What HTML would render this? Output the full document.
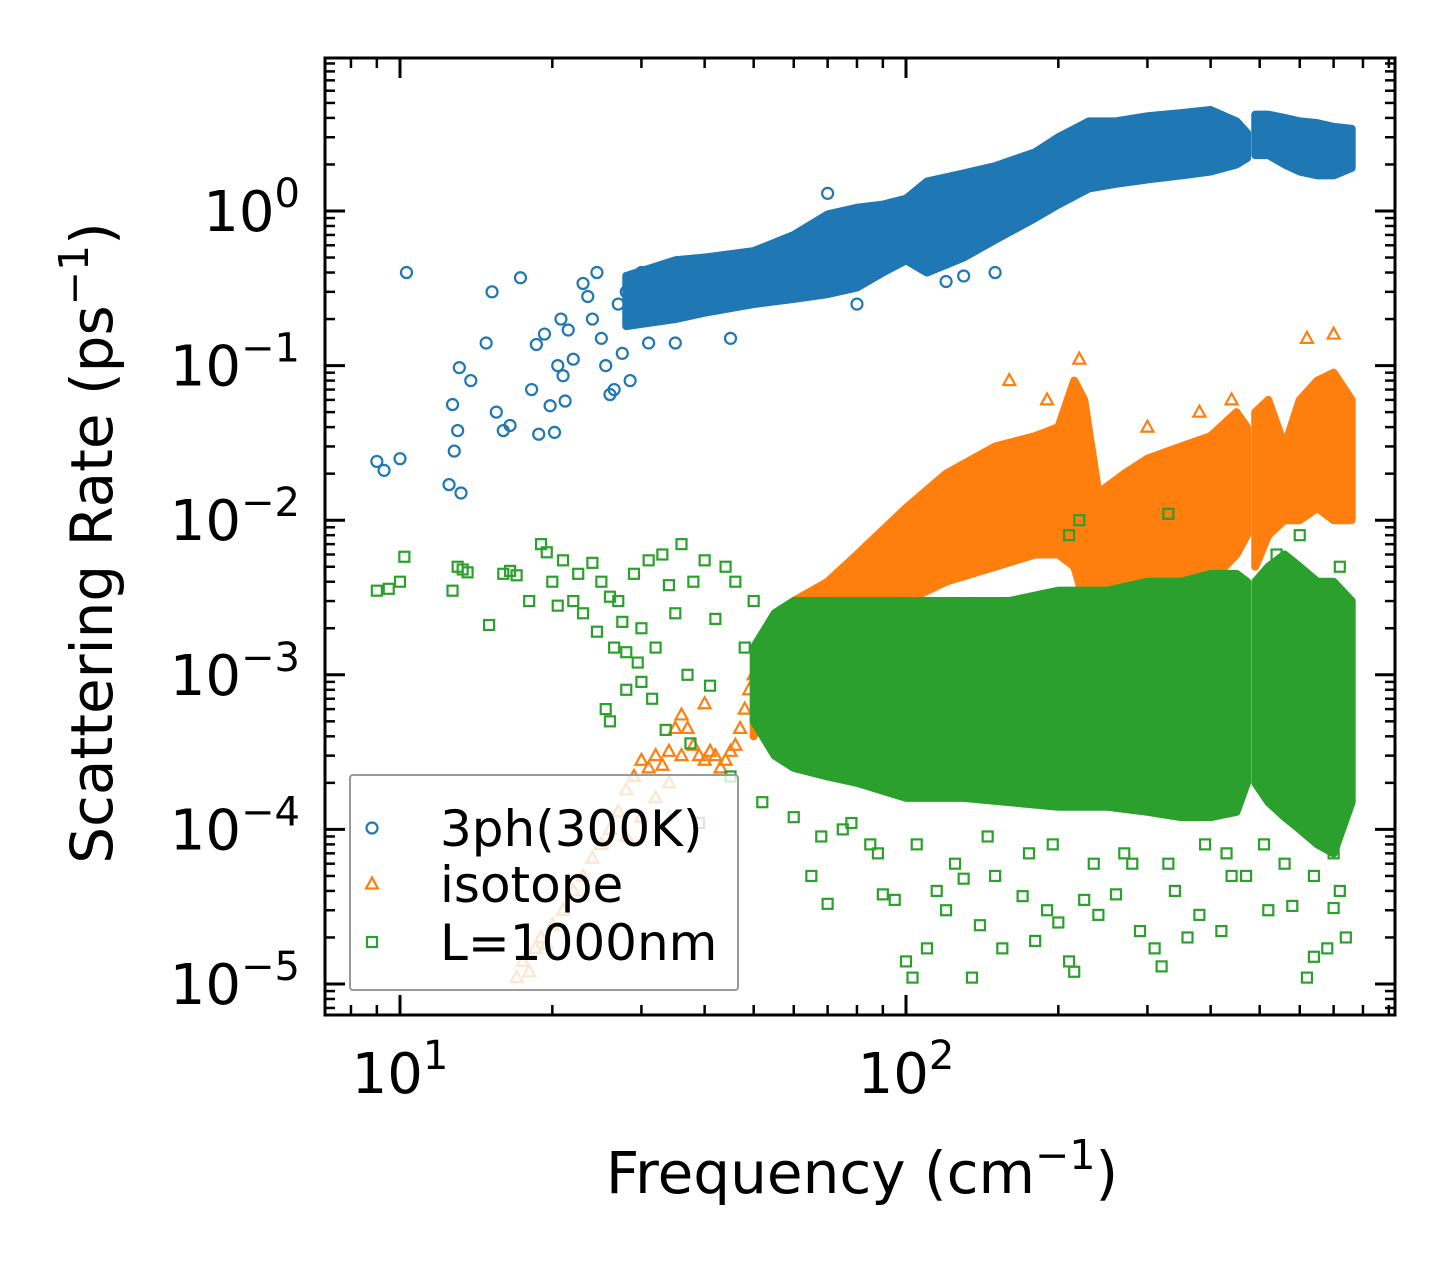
<!DOCTYPE html>
<html><head><meta charset="utf-8"><style>
html,body{margin:0;padding:0;background:#fff;}
svg text{font-family:"DejaVu Sans","Liberation Sans",sans-serif;}
</style></head><body>
<svg id="chart" width="1455" height="1265" viewBox="0 0 1455 1265" xmlns="http://www.w3.org/2000/svg">
<rect width="1455" height="1265" fill="#fff"/>
<g id="plot"></g>
<g id="axes"></g>
<g id="legend"></g>
</svg>
<script>
// ---- data ----
const blueF = [9,9.3,10,10.3,12.5,12.7,12.8,13,13.1,13.2,13.8,14.8,15.2,15.5,16,16.5,17.3,18.2,18.6,18.8,19.3,19.8,20.2,20.5,20.8,21,21.2,21.5,22,23,23.5,24,24.5,25,25.5,26,26.5,27,27.5,28,28.5,29,30,31,32,33,34,35,36,37,38,39,42,45,48,70,80,90,120,130,150];
const blueV = [0.024,0.021,0.025,0.4,0.017,0.056,0.028,0.038,0.097,0.015,0.08,0.14,0.3,0.05,0.038,0.041,0.37,0.07,0.137,0.036,0.16,0.055,0.037,0.1,0.2,0.086,0.059,0.17,0.11,0.34,0.28,0.2,0.4,0.15,0.1,0.065,0.07,0.25,0.12,0.3,0.08,0.2,0.4,0.14,0.25,0.35,0.3,0.14,0.3,0.25,0.45,0.33,0.35,0.15,0.3,1.3,0.25,0.5,0.35,0.38,0.4];
const blueBand1F = [28,35,40,50,60,70,80,90,100,110,130,150,180,200,230,260,300,350,400,450,472];
const blueBand1Lo = [0.18,0.2,0.22,0.25,0.27,0.29,0.32,0.4,0.48,0.4,0.5,0.65,0.9,1.1,1.4,1.5,1.6,1.7,1.8,2.0,2.2];
const blueBand1Hi = [0.38,0.48,0.5,0.55,0.7,0.95,1.05,1.1,1.2,1.55,1.75,1.95,2.4,3.0,3.8,3.8,4.1,4.3,4.5,3.8,3.2];
const blueBand2F = [490,520,560,600,650,700,760];
const blueBand2Lo = [2.3,2.3,2.0,1.8,1.7,1.7,1.9];
const blueBand2Hi = [4.2,4.2,4.0,3.8,3.7,3.5,3.4];

const orangeF = [17,17.5,18,18.5,19,19.5,20,21,22,23,24,25,26,27,28,29,30,31,32,33,34,35,36,37,38,39,40,41,42,43,44,45,46,47,48,49,50,52,55,40,30,28,32,34,36,160,190,220,230,300,320,380,440,620,700,600,650];
const orangeV = [1.1e-5,1.4e-5,1.2e-5,1.7e-5,2e-5,1.8e-5,2.4e-5,3e-5,4e-5,5e-5,6.5e-5,8e-5,1e-4,1.3e-4,1.8e-4,2.2e-4,2.8e-4,2.5e-4,3e-4,2.6e-4,3.2e-4,4.5e-4,5.5e-4,4.5e-4,3.5e-4,3e-4,2.8e-4,3.2e-4,3e-4,2.5e-4,2.8e-4,3.2e-4,3.5e-4,4.5e-4,6e-4,8e-4,1e-3,1.5e-3,2e-3,6.5e-4,1.2e-4,9e-5,1.6e-4,2e-4,3e-4,8e-2,6e-2,1.1e-1,3e-2,4e-2,2e-2,5e-2,6e-2,1.5e-1,1.6e-1,1.5e-4,2e-4];
const orangeBand1F = [50,55,60,70,80,100,120,150,180,200,215,225,240,270,300,350,400,450,472];
const orangeBand1Lo = [4e-4,1e-3,1.8e-3,2e-3,2.2e-3,3e-3,4e-3,5e-3,6e-3,6e-3,5e-3,3e-3,2e-3,2e-3,2.5e-3,3e-3,4e-3,6e-3,8e-3];
const orangeBand1Hi = [6e-4,2e-3,3e-3,4e-3,6e-3,1.2e-2,2e-2,3e-2,3.5e-2,4e-2,8e-2,6e-2,1.5e-2,2e-2,2.5e-2,3e-2,3.5e-2,5e-2,4e-2];
const orangeBand2F = [490,520,560,600,650,700,760];
const orangeBand2Lo = [5e-3,8e-3,1e-2,1e-2,1.2e-2,1e-2,1e-2];
const orangeBand2Hi = [5e-2,6e-2,3e-2,6e-2,8e-2,9e-2,6e-2];

const greenF = [9,9.5,10,10.2,12.7,13,13.3,13.6,15,16,16.5,17,18,19,19.5,20,20.5,21,22,22.5,23,24,24.5,25,26,26.5,27,27.5,28,29,29.5,30,31,31.5,32,33,33.5,34,35,36,37,37.5,38,39,40,41,42,44,45,46,48,50,52,26,28,30,25.5,65,70,75,85,90,95,100,103,110,115,120,130,135,140,150,155,170,180,190,200,210,215,225,240,260,280,290,310,320,340,360,380,420,440,520,580,620,640,680,700,720,740,210,220,330,540,600,720,60,68,78,88,105,125,145,175,195,235,270,330,390,430,470,510,560,640,700];
const greenV = [3.5e-3,3.6e-3,4e-3,5.8e-3,3.5e-3,5e-3,4.8e-3,4.6e-3,2.1e-3,4.5e-3,4.7e-3,4.4e-3,3e-3,7e-3,6.2e-3,4e-3,2.8e-3,5.5e-3,3e-3,4.5e-3,2.5e-3,5.3e-3,1.9e-3,4e-3,3.2e-3,1.5e-3,3e-3,2.2e-3,1.4e-3,4.5e-3,1.2e-3,2e-3,5.5e-3,7e-4,1.5e-3,6e-3,4.4e-4,3.8e-3,2.5e-3,7e-3,1e-3,3.6e-4,4e-3,1.1e-4,5.5e-3,8.5e-4,2.3e-3,5e-3,2.2e-4,4e-3,1.5e-3,3e-3,1.5e-4,5e-4,8e-4,9e-4,6e-4,5e-5,3.3e-5,1e-4,8e-5,3.8e-5,3.5e-5,1.4e-5,1.1e-5,1.7e-5,4e-5,3e-5,4.8e-5,1.1e-5,2.4e-5,5e-5,1.7e-5,3.7e-5,1.9e-5,3e-5,2.5e-5,1.4e-5,1.2e-5,3.5e-5,2.8e-5,3.8e-5,6e-5,2.2e-5,1.7e-5,1.3e-5,4e-5,2e-5,2.8e-5,2.2e-5,5e-5,3e-5,3.2e-5,1.1e-5,1.5e-5,1.7e-5,3.1e-5,4e-5,2e-5,8e-3,1e-2,1.1e-2,6e-3,8e-3,5e-3,1.2e-4,9e-5,1.1e-4,7e-5,8e-5,6e-5,9e-5,7e-5,8e-5,6e-5,7e-5,6e-5,8e-5,7e-5,5e-5,8e-5,6e-5,5e-5,7e-5];
const greenBand1F = [50,55,60,70,80,100,130,160,200,250,300,350,400,450,472];
const greenBand1Lo = [5e-4,3e-4,2.5e-4,2.2e-4,2e-4,1.6e-4,1.6e-4,1.5e-4,1.4e-4,1.4e-4,1.3e-4,1.2e-4,1.2e-4,1.3e-4,2e-4];
const greenBand1Hi = [1.5e-3,2.5e-3,3e-3,3e-3,3e-3,3e-3,3e-3,3e-3,3.5e-3,3.5e-3,4e-3,4e-3,4.5e-3,4.5e-3,4e-3];
const greenBand2F = [490,520,560,600,650,700,760];
const greenBand2Lo = [2e-4,1.5e-4,1.2e-4,1e-4,8e-5,7e-5,1.5e-4];
const greenBand2Hi = [4e-3,5e-3,6e-3,5e-3,4e-3,4e-3,3e-3];

const xTickVals = [10,100];
const xTickLabels = ['1','2'];
const yTickVals = [1,0.1,0.01,0.001,1e-4,1e-5];
const yTickLabels = ['0','−1','−2','−3','−4','−5'];

// ---- axes ----
const L=325,R=1395,T=58,B=1015;
const xOf = f => 400 + (Math.log10(f)-1)*506;
const yOf = v => 211 - Math.log10(v)*154.6;
const NS='http://www.w3.org/2000/svg';
function mk(tag, attrs, parent){const e=document.createElementNS(NS,tag);for(const k in attrs)e.setAttribute(k,attrs[k]);parent.appendChild(e);return e;}
const plot=document.getElementById('plot'), axes=document.getElementById('axes'), legend=document.getElementById('legend');
const C={blue:'#1f77b4',orange:'#ff7f0e',green:'#2ca02c'};

function band(F,Lo,Hi,color,name){
  let pts=F.map((f,i)=>xOf(f)+','+yOf(Hi[i]));
  for(let i=F.length-1;i>=0;i--)pts.push(xOf(F[i])+','+yOf(Lo[i]));
  const p=mk('polygon',{points:pts.join(' '),fill:color,stroke:color,'stroke-width':8,'stroke-linejoin':'round'},plot);
  
  
}
function marker(kind,x,y,color,parent){
  let e;
  if(kind==='o') e=mk('circle',{cx:x,cy:y,r:5.5,fill:'none',stroke:color,'stroke-width':2.2},parent);
  else if(kind==='^') e=mk('polygon',{points:`${x},${y-6.5} ${x-6},${y+4.5} ${x+6},${y+4.5}`,fill:'none',stroke:color,'stroke-width':2.2},parent);
  else e=mk('rect',{x:x-5,y:y-5,width:10,height:10,fill:'none',stroke:color,'stroke-width':2.2},parent);
  return e;
}
function scatter(F,V,kind,color,name){
  const g=mk('g',{},plot);
  
  
  F.forEach((f,i)=>{const m=marker(kind,xOf(f),yOf(V[i]),color,g);
    
    });
}
const clip=mk('clipPath',{id:'pc'},document.getElementById('chart'));
mk('rect',{x:L,y:T,width:R-L,height:B-T},clip);
plot.setAttribute('clip-path','url(#pc)');

band(blueBand1F,blueBand1Lo,blueBand1Hi,C.blue,'3ph-band-1');
band(blueBand2F,blueBand2Lo,blueBand2Hi,C.blue,'3ph-band-2');
scatter(blueF,blueV,'o',C.blue,'3ph-series');
band(orangeBand1F,orangeBand1Lo,orangeBand1Hi,C.orange,'isotope-band-1');
band(orangeBand2F,orangeBand2Lo,orangeBand2Hi,C.orange,'isotope-band-2');
scatter(orangeF,orangeV,'^',C.orange,'isotope-series');
band(greenBand1F,greenBand1Lo,greenBand1Hi,C.green,'boundary-band-1');
band(greenBand2F,greenBand2Lo,greenBand2Hi,C.green,'boundary-band-2');
scatter(greenF,greenV,'s',C.green,'boundary-series');

// frame
const fr=mk('rect',{x:L,y:T,width:R-L,height:B-T,fill:'none',stroke:'#000','stroke-width':3},axes);

for(let d=0;d<=2;d++){for(let m=1;m<10;m++){const f=m*Math.pow(10,d);const x=xOf(f);if(x<L||x>R)continue;
  const len=m===1?20:10;
  mk('line',{x1:x,y1:B,x2:x,y2:B-len,stroke:'#000','stroke-width':m===1?3:2.5},axes);
  mk('line',{x1:x,y1:T,x2:x,y2:T+len,stroke:'#000','stroke-width':m===1?3:2.5},axes);}}
for(let d=-6;d<=0;d++){for(let m=1;m<10;m++){const v=m*Math.pow(10,d);const y=yOf(v);if(y<T||y>B)continue;
  const len=m===1?20:10;
  mk('line',{x1:L,y1:y,x2:L+len,y2:y,stroke:'#000','stroke-width':m===1?3:2.5},axes);
  mk('line',{x1:R,y1:y,x2:R-len,y2:y,stroke:'#000','stroke-width':m===1?3:2.5},axes);}}
xTickVals.forEach((v,i)=>{const t=mk('text',{x:xOf(v),y:1093,'font-size':56,'text-anchor':'middle'},axes);
  t.innerHTML='10<tspan dy="-24" font-size="40">'+xTickLabels[i]+'</tspan>';
  });
yTickVals.forEach((v,i)=>{const t=mk('text',{x:300,y:yOf(v)+20,'font-size':56,'text-anchor':'end'},axes);
  t.innerHTML='10<tspan dy="-24" font-size="40">'+yTickLabels[i]+'</tspan>';
  });
const xt=mk('text',{x:862,y:1193,'font-size':58,'text-anchor':'middle'},axes);
xt.innerHTML='Frequency (cm<tspan dy="-24" font-size="41">−1</tspan><tspan dy="24">)</tspan>';

const yt=mk('text',{x:0,y:0,'font-size':58,'text-anchor':'middle',transform:'translate(112,543) rotate(-90)'},axes);
yt.innerHTML='Scattering Rate (ps<tspan dy="-24" font-size="41">−1</tspan><tspan dy="24">)</tspan>';


// legend
mk('rect',{x:350,y:775,width:388,height:215,fill:'#fff','fill-opacity':0.8,stroke:'#999','stroke-width':2,rx:3},legend);
const entries=[['o',C.blue,'3ph(300K)',828],['^',C.orange,'isotope',884],['s',C.green,'L=1000nm',942]];
entries.forEach(e=>{const g=mk('g',{},legend);
  
  marker(e[0],372,e[3],e[1],g);
  mk('text',{x:440,y:e[3]+18,'font-size':50},g).textContent=e[2];});
</script>
</body></html>
